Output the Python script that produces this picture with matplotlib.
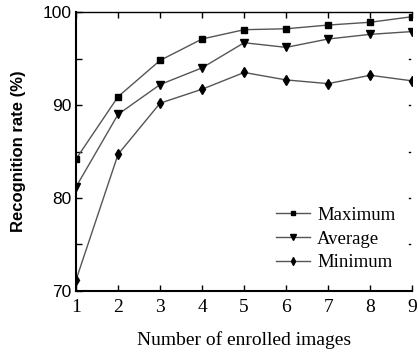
import matplotlib
matplotlib.use("Agg")
import matplotlib.pyplot as plt

x = [1, 2, 3, 4, 5, 6, 7, 8, 9]
maximum = [84.2, 90.9, 94.8, 97.1, 98.1, 98.2, 98.6, 98.9, 99.5]
average = [81.2, 89.0, 92.2, 94.0, 96.7, 96.2, 97.1, 97.6, 97.9]
minimum = [71.2, 84.7, 90.2, 91.7, 93.5, 92.7, 92.3, 93.2, 92.6]
xticks = [1, 2, 3, 4, 5, 6, 7, 8, 9]
yticks = [70, 80, 90, 100]

fig = plt.figure(figsize=(4.18, 3.54), dpi=100)
ax = fig.add_axes([0.182, 0.178, 0.804, 0.788])

lc = "#555555"
ax.plot(x, maximum, color=lc, lw=1.0, marker="s", ms=5, mfc="black", mec="black", label="Maximum")
ax.plot(x, average, color=lc, lw=1.0, marker="v", ms=6, mfc="black", mec="black", label="Average")
ax.plot(x, minimum, color=lc, lw=1.0, marker="d", ms=5.5, mfc="black", mec="black", label="Minimum")

ax.set_xlim(1, 9)
ax.set_ylim(70, 100)
ax.set_xticks(xticks)
ax.set_yticks(yticks)
ax.set_yticks([75, 85, 95], minor=True)
ax.tick_params(axis="both", which="both", direction="in", top=True, right=False, length=4, width=1)
ax.tick_params(axis="x", pad=6)
for lab in ax.get_xticklabels():
    lab.set_fontfamily("Liberation Serif")
    lab.set_fontsize(14)
for lab in ax.get_yticklabels():
    lab.set_fontfamily("Liberation Sans")
    lab.set_fontsize(12.5)

# right-side inner ticks (short)
for v in [75, 80, 85, 90, 95]:
    ax.plot([8.92, 8.96], [v, v], color="black", lw=1, transform=ax.transData, clip_on=False)

for s in ["left", "bottom"]:
    ax.spines[s].set_linewidth(1.5)
for s in ["top"]:
    ax.spines[s].set_linewidth(1.0)
ax.spines["right"].set_visible(False)

ax.set_xlabel("Number of enrolled images", fontfamily="Liberation Serif", fontsize=14, labelpad=11)
ax.set_ylabel("Recognition rate (%)", fontfamily="Liberation Sans", fontweight="bold", fontsize=12, labelpad=12)

leg = ax.legend(loc="lower right", bbox_to_anchor=(1.0, 0.01), frameon=False,
                prop={"family": "Liberation Serif", "size": 13.5},
                handlelength=1.8, labelspacing=0.35, handletextpad=0.4, markerscale=0.7)

fig.savefig("out.png", dpi=100)
